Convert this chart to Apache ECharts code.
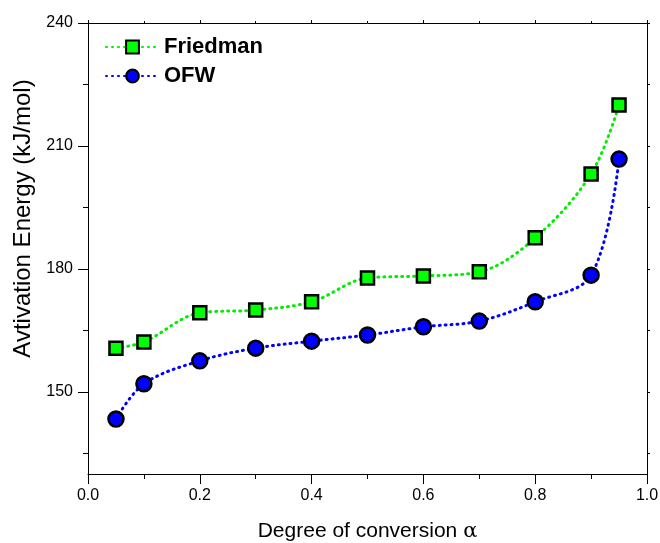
<!DOCTYPE html>
<html>
<head>
<meta charset="utf-8">
<script src="https://cdn.jsdelivr.net/npm/echarts@6/dist/echarts.min.js"></script>
<style>
  html, body { margin: 0; padding: 0; background: #fff; }
  #chart { width: 660px; height: 543px; }
</style>
</head>
<body>
<div id="chart"></div>
<script>
  // conversion degree and activation energies
  const alpha = [0.05, 0.1, 0.2, 0.3, 0.4, 0.5, 0.6, 0.7, 0.8, 0.9, 0.95]
  const friedman = [160.7, 162.2, 169.3, 170.0, 172.0, 177.8, 178.3, 179.3, 187.6, 203.2, 220.0]
  const ofw = [143.4, 152.0, 157.6, 160.7, 162.4, 163.9, 165.9, 167.3, 172.0, 178.5, 206.8]
  const yMajor = [150, 180, 210, 240]
  const yMinor = [135, 165, 195, 225]

  const font = 'Liberation Sans, Arial, sans-serif'
  const chart = echarts.init(document.getElementById('chart'))

  const pairs = arr => alpha.map((a, i) => [a, arr[i]])

  const frame = { show: true, lineStyle: { color: '#000', width: 1 } }

  const option = {
    animation: false,
    grid: { left: 88, right: 13, top: 23, bottom: 69, outerBoundsMode: 'none' },
    legend: {
      left: 100,
      top: 31,
      orient: 'vertical',
      itemWidth: 53,
      itemHeight: 16,
      itemGap: 7,
      textStyle: { fontFamily: font, fontSize: 22, fontWeight: 'bold', color: '#000' },
      data: ['Friedman', 'OFW']
    },
    xAxis: [
      {
        type: 'value', min: 0, max: 1, interval: 0.2,
        axisLine: frame,
        axisTick: { show: true, length: 10, lineStyle: { color: '#000' } },
        minorTick: { show: true, splitNumber: 2, length: 5, lineStyle: { color: '#000' } },
        splitLine: { show: false },
        axisLabel: { fontFamily: font, fontSize: 16, color: '#000', margin: 14, formatter: v => v.toFixed(1) },
        name: 'Degree of conversion {a|α}',
        nameLocation: 'middle',
        nameGap: 47,
        nameTextStyle: {
          fontFamily: font, fontSize: 21, color: '#000',
          rich: { a: { fontFamily: 'DejaVu Serif', fontSize: 21, color: '#000' } }
        }
      },
      {
        type: 'value', position: 'top', min: 0, max: 1, interval: 0.2,
        axisLine: frame,
        axisTick: { show: true, length: 3, lineStyle: { color: '#000' } },
        minorTick: { show: true, splitNumber: 2, length: 2, lineStyle: { color: '#000' } },
        splitLine: { show: false },
        axisLabel: { show: false }
      }
    ],
    yAxis: [
      {
        type: 'value', min: 130, max: 240,
        axisLine: frame,
        axisTick: { show: true, length: 10, customValues: yMajor, lineStyle: { color: '#000' } },
        splitLine: { show: false },
        axisLabel: { fontFamily: font, fontSize: 16, color: '#000', margin: 15, customValues: yMajor },
        name: 'Avtivation Energy (kJ/mol)',
        nameLocation: 'middle',
        nameGap: 52,
        nameTextStyle: { fontFamily: font, fontSize: 24, color: '#000', padding: [0, 0, 0, 60] }
      },
      {
        type: 'value', min: 130, max: 240, position: 'left',
        axisLine: { show: false },
        axisTick: { show: true, length: 5, customValues: yMinor, lineStyle: { color: '#000' } },
        splitLine: { show: false },
        axisLabel: { show: false }
      },
      {
        type: 'value', min: 130, max: 240, position: 'right',
        axisLine: frame,
        axisTick: { show: true, length: 3, customValues: yMajor.concat(yMinor), lineStyle: { color: '#000' } },
        splitLine: { show: false },
        axisLabel: { show: false }
      }
    ],
    series: [
      {
        name: 'Friedman',
        type: 'line',
        data: pairs(friedman),
        smooth: 0.35,
        symbol: 'rect',
        symbolSize: 13,
        lineStyle: { color: '#00ee00', width: 3, type: [1, 5], cap: 'round' },
        itemStyle: { color: '#00ff00', borderColor: '#000', borderWidth: 2.5 },
        z: 3
      },
      {
        name: 'OFW',
        type: 'line',
        data: pairs(ofw),
        smooth: 0.35,
        symbol: 'circle',
        symbolSize: 15,
        lineStyle: { color: '#0000ff', width: 3, type: [1, 5], cap: 'round' },
        itemStyle: { color: '#0000ff', borderColor: '#000', borderWidth: 2.5 },
        z: 3
      }
    ]
  }

  chart.setOption(option)
</script>
</body>
</html>
